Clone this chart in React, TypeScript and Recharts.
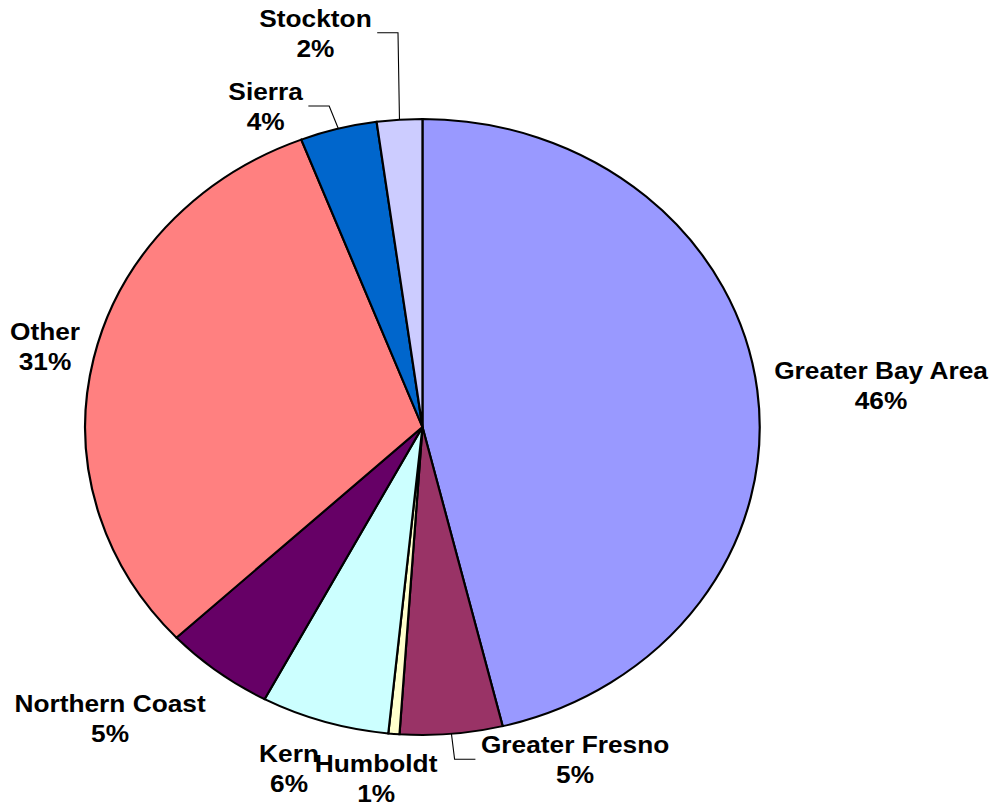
import React from 'react';
import { PieChart, Pie, Cell } from 'recharts';

// ---- data ----
const regions = [
  'Greater Bay Area',
  'Greater Fresno',
  'Humboldt',
  'Kern',
  'Northern Coast',
  'Other',
  'Sierra',
  'Stockton',
];
const shares = [46.18, 4.91, 0.53, 6.14, 5.26, 31.14, 3.68, 2.17];
const sliceColors = ['#9999FF', '#993366', '#FFFFCC', '#CCFFFF', '#660066', '#FF8080', '#0066CC', '#CCCCFF'];

const chartData = regions.map((name, i) => ({ name, value: shares[i] }));

// ---- layout (label placement relative to the radial anchor) ----
const STRETCH_X = 1.095;
const CHART_W = 906;
const CHART_H = 808;
const LABEL_GAP = 13;
const LINE_STEP = 30;
const FONT = '"Liberation Sans", Arial, sans-serif';
const labelNudges: Record<string, [number, number]> = {
  'Greater Bay Area': [100.1, -9.2],
  'Greater Fresno': [111.8, 6.5],
  Humboldt: [-15.1, 24.9],
  Kern: [-28.7, 27.5],
  'Northern Coast': [-90.4, 29.7],
  Other: [-31.8, -15.3],
  Sierra: [-63.2, -16.1],
  Stockton: [-75.8, -80],
};
const leaderLabels = ['Stockton', 'Sierra', 'Greater Fresno'];

const RAD = Math.PI / 180;
let measureCtx: CanvasRenderingContext2D | null = null;
function textWidth(s: string): number {
  if (!measureCtx) measureCtx = document.createElement('canvas').getContext('2d');
  if (!measureCtx) return s.length * 14;
  measureCtx.font = `bold 24px ${FONT}`;
  return measureCtx.measureText(s).width;
}

function renderLabel(props: any) {
  const { cx, cy, midAngle, outerRadius, percent, index } = props;
  const name = regions[index];
  const cos = Math.cos(-midAngle * RAD);
  const sin = Math.sin(-midAngle * RAD);
  const ax = cx + (outerRadius + LABEL_GAP) * cos;
  const ay = cy + (outerRadius + LABEL_GAP) * sin;
  const [dx, dy] = labelNudges[name];
  const lx = ax + dx;
  const ly = ay + dy;
  const pct = `${Math.round(percent * 100)}%`;
  let leader: React.ReactNode = null;
  if (leaderLabels.includes(name)) {
    const ex = cx + outerRadius * cos;
    const ey = cy + outerRadius * sin;
    const side = ex > lx ? 1 : -1;
    const half = textWidth(name) / 2;
    const hx0 = lx + side * (half + 5);
    const hx1 = hx0 + side * 19;
    const hy = ly + 6;
    leader = (
      <polyline
        points={`${ex},${ey} ${hx1},${hy} ${hx0},${hy}`}
        fill="none"
        stroke="#000"
        strokeWidth={1}
      />
    );
  }
  return (
    <g key={`lbl-${index}`}>
      {leader}
      <text
        x={lx}
        y={ly}
        textAnchor="middle"
        fontFamily={FONT}
        fontWeight="bold"
        fontSize={24}
        fill="#000"
      >
        <tspan x={lx}>{name}</tspan>
        <tspan x={lx} dy={LINE_STEP}>{pct}</tspan>
      </text>
    </g>
  );
}

export default function App() {
  return (
    <div
      style={{
        position: 'absolute',
        left: 0,
        top: 0,
        width: CHART_W,
        height: CHART_H,
        transform: `scaleX(${STRETCH_X})`,
        transformOrigin: '0 0',
        background: '#fff',
      }}
    >
      <PieChart width={CHART_W} height={CHART_H} margin={{ top: 0, right: 0, bottom: 0, left: 0 }}>
        <Pie
          data={chartData}
          dataKey="value"
          nameKey="name"
          cx={385.8}
          cy={427}
          outerRadius={308}
          startAngle={90}
          endAngle={-270}
          stroke="#000"
          strokeWidth={2}
          label={renderLabel}
          labelLine={false}
          isAnimationActive={false}
        >
          {chartData.map((d, i) => (
            <Cell key={d.name} fill={sliceColors[i]} stroke="#000" strokeWidth={2} />
          ))}
        </Pie>
      </PieChart>
    </div>
  );
}
